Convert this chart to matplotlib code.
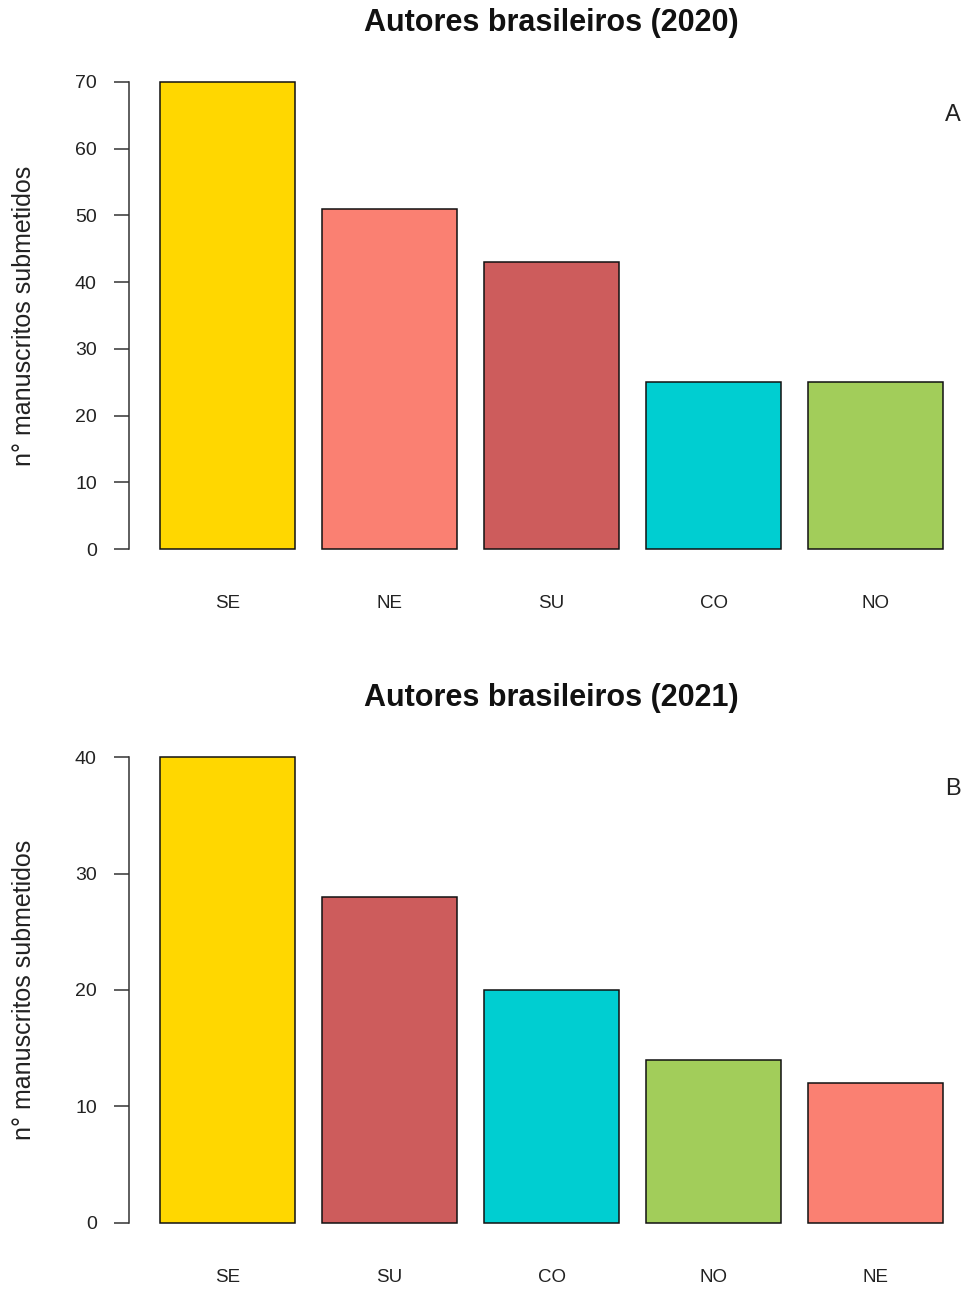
import matplotlib.pyplot as plt

plt.rcParams['font.family'] = ['Liberation Sans', 'DejaVu Sans']

# dados 2020
regioes2020 = ['SE', 'NE', 'SU', 'CO', 'NO']
valores2020 = [70, 51, 43, 25, 25]
cores2020 = ['#FFD700', '#FA8072', '#CD5C5C', '#00CED1', '#A2CD5A']

# dados 2021
regioes2021 = ['SE', 'SU', 'CO', 'NO', 'NE']
valores2021 = [40, 28, 20, 14, 12]
cores2021 = ['#FFD700', '#CD5C5C', '#00CED1', '#A2CD5A', '#FA8072']

W, H = 968, 1290
fig = plt.figure(figsize=(W / 100, H / 100), dpi=100)


def painel(top_px, bottom_px, regioes, valores, cores, ticks, titulo, letra, letra_y):
    left_px = 128.7
    ax = fig.add_axes([left_px / W, 1 - bottom_px / H, 1 - left_px / W, (bottom_px - top_px) / H])
    # posicoes no estilo barplot do R (width 1, space 0.2)
    xs = [0.2 + 1.2 * i + 0.5 for i in range(len(valores))]
    ax.bar(xs, valores, width=1.0, color=cores, edgecolor='#111111', linewidth=1.1)
    ymax = max(valores)
    ax.set_xlim(-0.032, (968 - 133) / 135)
    ax.set_ylim(-0.04 * ymax, 1.04 * ymax)
    for s in ['top', 'right', 'bottom']:
        ax.spines[s].set_visible(False)
    ax.spines['left'].set_bounds(0, ticks[-1])
    ax.spines['left'].set_color('#333333')
    ax.spines['left'].set_linewidth(1.1)
    ax.set_yticks(ticks)
    ax.tick_params(axis='y', length=11, width=1.1, color='#333333', pad=12,
                   labelsize=14, labelcolor='#222222')
    ax.set_xticks(xs)
    ax.set_xticklabels(regioes)
    ax.tick_params(axis='x', length=0, pad=20, labelsize=13.5, labelcolor='#222222')
    ax.set_ylabel('n° manuscritos submetidos', fontsize=18, color='#222222')
    ax.yaxis.set_label_coords(-0.11, 0.5)
    fig.text(551 / W, 1 - (top_px - 40) / H, titulo, ha='center', va='center',
             fontsize=22, fontweight='bold', color='#111111')
    fig.text(953 / W, 1 - letra_y / H, letra, ha='center', va='center',
             fontsize=17, color='#222222')
    return ax


painel(63.3, 567.7, regioes2020, valores2020, cores2020,
       [0, 10, 20, 30, 40, 50, 60, 70], 'Autores brasileiros (2020)', 'A', 115)
painel(738.4, 1241.6, regioes2021, valores2021, cores2021,
       [0, 10, 20, 30, 40], 'Autores brasileiros (2021)', 'B', 789)

fig.savefig('out.png', dpi=100)
